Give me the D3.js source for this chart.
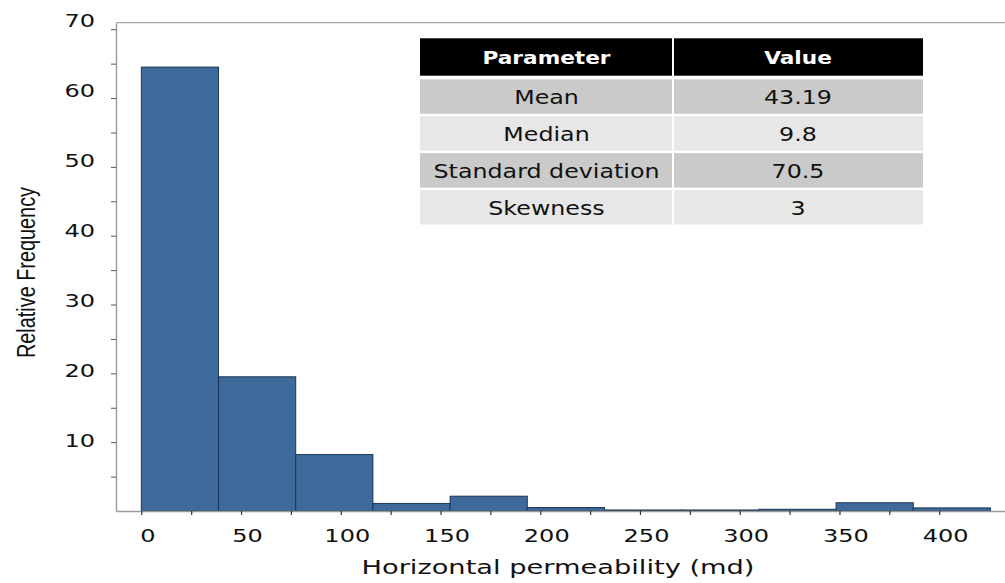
<!DOCTYPE html>
<html>
<head>
<meta charset="utf-8">
<script src="https://cdn.jsdelivr.net/npm/d3@7"></script>
<style>
  html, body { margin: 0; padding: 0; background: #fff; }
  svg { display: block; }
</style>
</head>
<body>
<script>
// Histogram bins (md) and relative frequency (%) per bin
const binEdges = [0, 38.7, 77.4, 116.1, 154.8, 193.5, 232.2, 270.9, 309.6, 348.3, 387.0, 425.7];
const relFreq  = [64.5, 19.5, 8.2, 1.1, 2.15, 0.5, 0.15, 0.15, 0.25, 1.2, 0.45];

// Axis ticks
const xMajorTicks = [0, 50, 100, 150, 200, 250, 300, 350, 400];
const xMinorTicks = [25, 75, 125, 175, 225, 275, 325, 375];
const yMajorTicks = [10, 20, 30, 40, 50, 60, 70];
const yMinorTicks = [5, 15, 25, 35, 45, 55, 65];

// Summary statistics table
const tableHeader = ["Parameter", "Value"];
const paramNames  = ["Mean", "Median", "Standard deviation", "Skewness"];
const paramValues = ["43.19", "9.8", "70.5", "3"];

const W = 1005, H = 583;
const FONT = "'DejaVu Sans', Verdana, sans-serif";

const svg = d3.select("body").append("svg")
  .attr("width", W).attr("height", H);

const x = d3.scaleLinear().domain([-12.7, 433]).range([116, 1005]);
const y = d3.scaleLinear().domain([0, 70.95]).range([511, 22.7]);

// Top frame line
svg.append("line")
  .attr("x1", x.range()[0]).attr("x2", x.range()[1])
  .attr("y1", y(y.domain()[1])).attr("y2", y(y.domain()[1]))
  .attr("stroke", "#a8a8a8").attr("stroke-width", 1.2);

// Bars
const bins = relFreq.map((v, i) => ({ x0: binEdges[i], x1: binEdges[i + 1], v }));
svg.append("g").selectAll("rect").data(bins).join("rect")
  .attr("x", d => x(d.x0))
  .attr("width", d => x(d.x1) - x(d.x0))
  .attr("y", d => y(d.v))
  .attr("height", d => y(0) - y(d.v))
  .attr("fill", "#3d6a9b")
  .attr("stroke", "#1d3655")
  .attr("stroke-width", 1);

// X axis
const sxTick = 1.3;
const xAxis = d3.axisBottom(x)
  .tickValues(xMajorTicks.concat(xMinorTicks))
  .tickSize(4).tickSizeOuter(0)
  .tickFormat(d => xMajorTicks.includes(d) ? d : "");
const gx = svg.append("g").attr("transform", `translate(0,${y(0)})`).call(xAxis);
gx.select(".domain").attr("stroke", "#9a9a9a").attr("stroke-width", 1.4);
gx.selectAll(".tick line").attr("stroke", "#333").attr("stroke-width", 1.2);
gx.selectAll(".tick text")
  .attr("font-family", FONT).attr("font-size", 18.5).attr("fill", "#111")
  .attr("y", 30.7).attr("dy", 0)
  .attr("x", 6 / sxTick)
  .attr("transform", `scale(${sxTick},1)`);

// Y axis; labels sit a little above their ticks, more so toward the top
const yAxis = d3.axisLeft(y)
  .tickValues(yMajorTicks.concat(yMinorTicks))
  .tickSize(5).tickSizeOuter(0)
  .tickFormat(d => yMajorTicks.includes(d) ? d : "");
const gy = svg.append("g").attr("transform", `translate(${x.range()[0]},0)`).call(yAxis);
gy.select(".domain").attr("stroke", "#9a9a9a").attr("stroke-width", 1.4);
gy.selectAll(".tick line").attr("stroke", "#555").attr("stroke-width", 1);
gy.selectAll(".tick text")
  .attr("font-family", FONT).attr("font-size", 18.5).attr("fill", "#111")
  .attr("x", -21 / sxTick)
  .attr("y", d => -2 - (d - 10) * 0.12)
  .attr("dy", "0.36em")
  .attr("text-anchor", "end")
  .attr("transform", `scale(${sxTick},1)`);

// Axis titles
svg.append("text")
  .attr("x", 558).attr("y", 574)
  .attr("text-anchor", "middle")
  .attr("font-family", FONT).attr("font-size", 19.5).attr("fill", "#111")
  .attr("textLength", 393).attr("lengthAdjust", "spacingAndGlyphs")
  .text("Horizontal permeability (md)");

svg.append("text")
  .attr("transform", "translate(35,272.5) rotate(-90)")
  .attr("text-anchor", "middle")
  .attr("font-family", "'Liberation Sans', Arial, sans-serif")
  .attr("font-size", 25).attr("fill", "#111")
  .attr("textLength", 171).attr("lengthAdjust", "spacingAndGlyphs")
  .text("Relative Frequency");

// Statistics table
const colX = [420, 673, 923];     // column boundaries
const headTop = 38.3, headH = 37.4;
const rowTop0 = 79.3, rowPitch = 36.9, rowH = 34.5;
const colGap = 2;

const table = svg.append("g");
table.selectAll("rect.head").data(tableHeader).join("rect")
  .attr("class", "head")
  .attr("x", (d, i) => colX[i] + (i ? colGap / 2 : 0))
  .attr("width", (d, i) => colX[i + 1] - colX[i] - colGap / 2)
  .attr("y", headTop).attr("height", headH)
  .attr("fill", "#000");
table.selectAll("text.head").data(tableHeader).join("text")
  .attr("class", "head")
  .attr("transform", (d, i) => `translate(${(colX[i] + colX[i + 1]) / 2},${headTop + 26}) scale(1.17,1)`)
  .attr("text-anchor", "middle")
  .attr("font-family", FONT).attr("font-weight", "bold").attr("font-size", 18.5)
  .attr("fill", "#fff")
  .text(d => d);

const rows = paramNames.map((n, i) => [n, paramValues[i]]);
const rowG = table.selectAll("g.row").data(rows).join("g")
  .attr("class", "row")
  .attr("transform", (d, i) => `translate(0,${rowTop0 + i * rowPitch})`);
rowG.selectAll("rect").data((d, i) => d.map(v => ({ v, r: i }))).join("rect")
  .attr("x", (d, i) => colX[i] + (i ? colGap / 2 : 0))
  .attr("width", (d, i) => colX[i + 1] - colX[i] - colGap / 2)
  .attr("y", 0).attr("height", rowH)
  .attr("fill", d => d.r % 2 === 0 ? "#cacaca" : "#e7e7e7");
rowG.selectAll("text").data(d => d).join("text")
  .attr("transform", (d, i) => `translate(${(colX[i] + colX[i + 1]) / 2},${rowH / 2 + 7.5}) scale(1.25,1)`)
  .attr("text-anchor", "middle")
  .attr("font-family", FONT).attr("font-size", 19)
  .attr("fill", "#111")
  .text(d => d);
</script>
</body>
</html>
